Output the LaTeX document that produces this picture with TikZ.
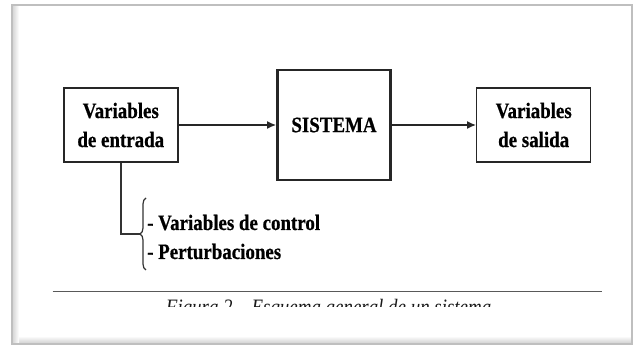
\documentclass[tikz,border=0pt]{standalone}
\usepackage{fontspec}
\setmainfont{Liberation Serif}[FakeStretch=0.86, BoldFeatures={FakeBold=0.6}]
\usetikzlibrary{arrows.meta,decorations.pathreplacing}

\tikzset{
  varbox/.style={draw=black!85, line width=1.4pt, minimum width=114pt, minimum height=74pt,
    align=center, inner sep=2pt, font=\bfseries\fontsize{22}{29}\selectfont},
  sysbox/.style={varbox, line width=2.8pt, minimum width=113pt, minimum height=110pt},
  flow/.style={draw=black!85, line width=1.4pt, -{Latex[length=9pt,width=8pt]}},
  listtext/.style={align=left, inner sep=0pt, font=\bfseries\fontsize{22}{29}\selectfont},
  captext/.style={inner sep=0pt, text=black!90, font=\itshape\fontsize{22}{26}\selectfont},
}

\begin{document}
\begin{tikzpicture}[x=1pt,y=1pt]
\path[use as bounding box,fill=white] (0,0) rectangle (633,347);

% page frame with a soft shadow
\shade[top color=white, bottom color=gray!35] (13,4) rectangle (631,11);
\shade[left color=gray!30, right color=white] (13,4) rectangle (19,341);
\draw[gray!50, line width=1.8pt] (12,3) rectangle (632,342);

% blocks
\node[varbox] (entrada) at (120.8,222) {Variables\\de entrada};
\node[sysbox] (sistema) at (334,222) {SISTEMA};
\node[varbox] (salida) at (533.7,222) {Variables\\de salida};

\draw[flow] (entrada) -- (sistema);
\draw[flow] (sistema) -- (salida);

% inputs listed under the first block
\coordinate (bracelow) at (146,77);
\coordinate (bracehigh) at (146,149);
\coordinate (bracetip) at (140,113);
\draw[black!80, line width=1.2pt, decorate, decoration={brace, amplitude=6pt}] (bracelow) -- (bracehigh);
\draw[black!80, line width=1.4pt] (entrada.south) |- (bracetip);
\node[listtext, anchor=west] (ctrl) at (147,110) {- Variables de control\\- Perturbaciones};

% caption rule, caption cut off at the bottom
\draw[black!65, line width=1.6pt] (52.5,55.3) -- (601.5,55.3);
\begin{scope}
\clip (0,40.5) rectangle (633,347);
\node[captext, anchor=base] (caption) at (328.6,32.4) {Figura 2 -- Esquema general de un sistema};
\end{scope}
\end{tikzpicture}
\end{document}
